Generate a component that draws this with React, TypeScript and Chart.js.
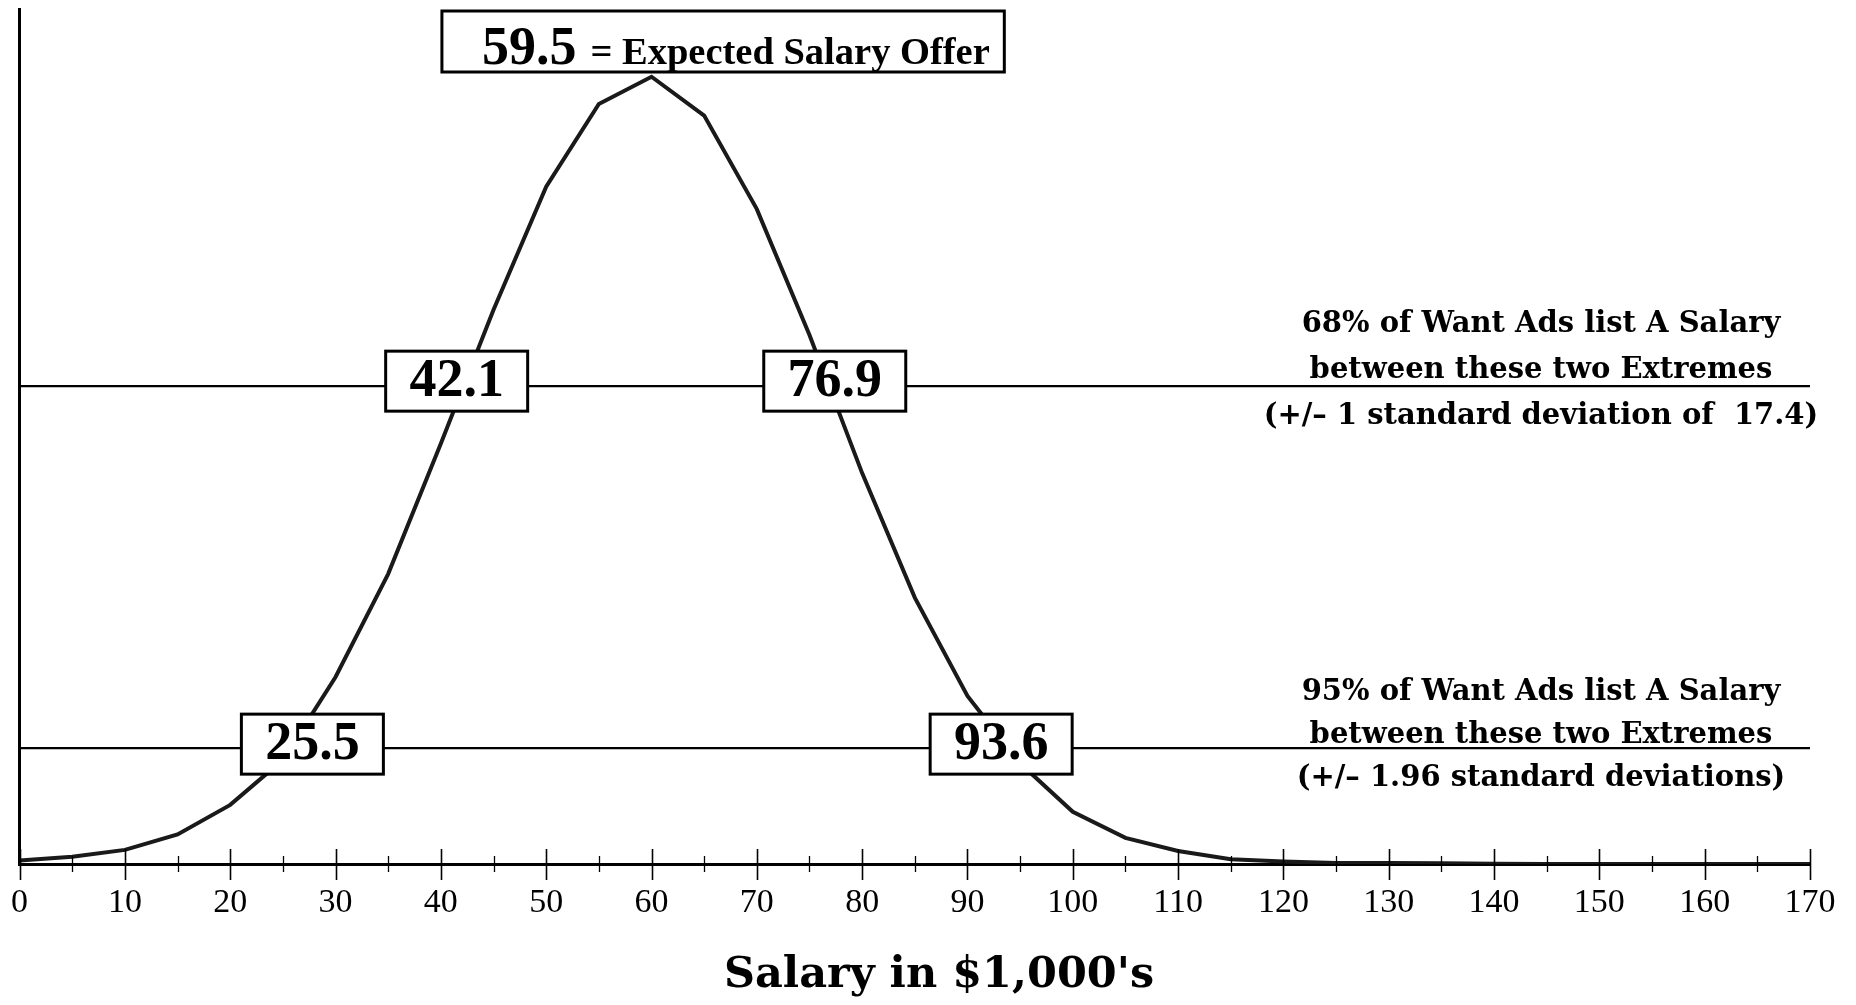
import React, { useEffect, useRef } from 'react';
import { Chart, registerables } from 'chart.js';

Chart.register(...registerables);

// ---- data ----
const salaryPoints = [0, 5, 10, 15, 20, 25, 30, 35, 40, 45, 50, 55, 60, 65, 70, 75, 80, 85, 90, 95, 100, 105, 110, 115, 120, 125, 130, 135, 140, 145, 150, 155, 160, 165, 170];
const frequencyValues = [0.10, 0.21, 0.41, 0.86, 1.72, 3.03, 5.44, 8.44, 12.23, 16.12, 19.70, 22.11, 22.90, 21.77, 19.05, 15.39, 11.37, 7.75, 4.89, 2.93, 1.52, 0.76, 0.38, 0.14, 0.07, 0.03, 0.03, 0.02, 0.01, 0, 0, 0, 0, 0, 0];
const oneSdLevel = 13.9;
const twoSdLevel = 3.37;
const referenceLineEnds = [0, 170];
const xMin = 0;
const xMax = 170;
const yMax = 24.9;
const xTitle = "Salary in $1,000's";
const valueBoxLabels = ['42.1', '76.9', '25.5', '93.6'];
const valueBoxLevels = [oneSdLevel, oneSdLevel, twoSdLevel, twoSdLevel];
const meanLabel = '59.5';
const meanCaption = '= Expected Salary Offer';
const oneSdNote = ['68% of Want Ads list A Salary', 'between these two Extremes', '(+/\u2013 1 standard deviation of  17.4)'];
const twoSdNote = ['95% of Want Ads list A Salary', 'between these two Extremes', '(+/\u2013 1.96 standard deviations)'];

// ---- annotation layout (placement of labels) ----
const valueBoxAnchorX = [41.5, 77.4, 27.8, 93.2];
const valueBoxOffsetY = [-5, -5, -4, -4];
const meanBoxRange = [40.1, 93.5];
const noteCenterX = 1533;
const oneSdNoteRows = [316, 362, 408];
const twoSdNoteRows = [684, 727, 770];
const titleCenter = [931, 968];

const annotationPlugin = {
  id: 'salaryAnnotations',
  afterDatasetsDraw(chart: any) {
    const { ctx, scales } = chart;
    const x = scales.x;
    const y = scales.y;
    ctx.save();

    // tick marks crossing the axis
    ctx.strokeStyle = '#000';
    x.ticks.forEach((t: any) => {
      const px = Math.round(x.getPixelForValue(t.value)) + 0.5;
      const major = t.value % 10 === 0;
      ctx.beginPath();
      ctx.lineWidth = major ? 1.6 : 1.3;
      ctx.moveTo(px, x.top - (major ? 15 : 8));
      ctx.lineTo(px, x.top + (major ? 16 : 8));
      ctx.stroke();
    });

    const drawBox = (l: number, t: number, w: number, h: number) => {
      ctx.fillStyle = '#fff';
      ctx.fillRect(l, t, w, h);
      ctx.lineWidth = 3;
      ctx.strokeStyle = '#000';
      ctx.strokeRect(l, t, w, h);
    };

    // value boxes
    const bw = 142;
    const bh = 60;
    valueBoxLabels.forEach((lab, i) => {
      const cx = x.getPixelForValue(valueBoxAnchorX[i]);
      const cy = y.getPixelForValue(valueBoxLevels[i]) + valueBoxOffsetY[i];
      drawBox(cx - bw / 2, cy - bh / 2, bw, bh);
      ctx.fillStyle = '#000';
      ctx.font = 'bold 54px "Liberation Serif"';
      ctx.textAlign = 'center';
      ctx.textBaseline = 'middle';
      ctx.fillText(lab, cx, cy + 1);
    });

    // mean box
    const ml = x.getPixelForValue(meanBoxRange[0]);
    const mr = x.getPixelForValue(meanBoxRange[1]);
    const mt = y.getPixelForValue(yMax) + 3;
    drawBox(ml, mt, mr - ml, 61);
    ctx.fillStyle = '#000';
    ctx.textAlign = 'left';
    ctx.textBaseline = 'alphabetic';
    ctx.font = 'bold 54px "Liberation Serif"';
    ctx.fillText(meanLabel, ml + 40, mt + 53);
    const w1 = ctx.measureText(meanLabel).width;
    ctx.font = 'bold 38.5px "Liberation Serif"';
    ctx.fillText(meanCaption, ml + 40 + w1 + 14, mt + 53);

    // notes
    ctx.textAlign = 'center';
    ctx.textBaseline = 'middle';
    ctx.font = 'bold 29px "DejaVu Serif"';
    oneSdNote.forEach((s, i) => ctx.fillText(s, noteCenterX, oneSdNoteRows[i]));
    twoSdNote.forEach((s, i) => ctx.fillText(s, noteCenterX, twoSdNoteRows[i]));

    // axis title
    ctx.font = 'bold 43px "DejaVu Serif"';
    ctx.fillText(xTitle, titleCenter[0], titleCenter[1]);

    ctx.restore();
  },
};

export default function App() {
  const canvasRef = useRef<HTMLCanvasElement | null>(null);

  useEffect(() => {
    if (!canvasRef.current) return;
    const curve = salaryPoints.map((s, i) => ({ x: s, y: frequencyValues[i] }));
    const oneSdLine = referenceLineEnds.map((s) => ({ x: s, y: oneSdLevel }));
    const twoSdLine = referenceLineEnds.map((s) => ({ x: s, y: twoSdLevel }));
    const chart = new Chart(canvasRef.current, {
      type: 'line',
      data: {
        datasets: [
          { data: curve, borderColor: '#1a1a1a', borderWidth: 4, pointRadius: 0, tension: 0, fill: false },
          { data: oneSdLine, borderColor: '#000', borderWidth: 2.3, pointRadius: 0, fill: false },
          { data: twoSdLine, borderColor: '#000', borderWidth: 2.3, pointRadius: 0, fill: false },
        ],
      },
      options: {
        responsive: false,
        animation: false,
        devicePixelRatio: 1,
        layout: { padding: { left: 11.6, right: 38, top: 0, bottom: 73.2 } },
        plugins: { legend: { display: false }, tooltip: { enabled: false } },
        scales: {
          x: {
            type: 'linear',
            min: xMin,
            max: xMax,
            grid: { display: true, color: 'rgba(0,0,0,0)', drawOnChartArea: false, drawTicks: true, tickLength: 19 },
            border: { display: true, color: '#000', width: 3 },
            ticks: {
              stepSize: 5,
              autoSkip: false,
              maxRotation: 0,
              padding: 0,
              color: '#000',
              font: { family: 'Liberation Serif', size: 34 },
              callback: (v: any) => (Number(v) % 10 === 0 ? String(v) : ''),
            },
            title: { display: false },
          },
          y: {
            min: 0,
            max: yMax,
            grid: { display: false, drawTicks: false, tickLength: 0 },
            border: { display: true, color: '#000', width: 3 },
            ticks: { display: false },
          },
        },
      },
      plugins: [annotationPlugin],
    });
    return () => chart.destroy();
  }, []);

  return (
    <div>
      <canvas ref={canvasRef} width={1840} height={989} style={{ display: 'block' }} />
    </div>
  );
}
